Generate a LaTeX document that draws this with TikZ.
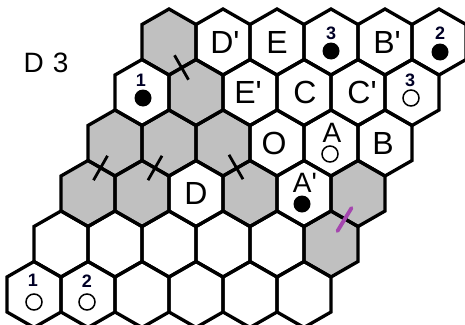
\documentclass[tikz,border=0pt]{standalone}
\usepackage{fontspec}
\setmainfont{Liberation Sans}[Ligatures=TeXOff]
\usetikzlibrary{calc}
\definecolor{hexgray}{RGB}{192,192,192}
\definecolor{tickpurple}{RGB}{165,70,175}
\tikzset{
  hexcell/.pic={\path[pic actions] (0,-33) -- (27,-17.5) -- (27,17.5) -- (0,33) -- (-27,17.5) -- (-27,-17.5) -- cycle;},
  hexline/.style={draw=black, line width=3.3pt, line join=miter},
  lbl/.style={font=\fontsize{32}{32}\selectfont, inner sep=0pt},
  lblsmall/.style={font=\fontsize{28}{28}\selectfont, inner sep=0pt},
  num/.style={font=\bfseries\fontsize{18}{18}\selectfont, inner sep=0pt, text=black!85!blue},
  stone/.style={circle, fill=black, minimum size=17pt, inner sep=0pt},
  ring/.style={circle, draw=black, line width=1.5pt, minimum size=16pt, inner sep=0pt},
  tickmark/.style={draw=black, line width=2.8pt},
  ptick/.style={draw=tickpurple, line width=3.8pt, line cap=round},
  title/.style={font=\fontsize{28}{28}\selectfont, inner sep=0pt}
}
\begin{document}
\begin{tikzpicture}[x=1pt,y=-1pt]
\useasboundingbox (0,0) rectangle (465,324);
\fill[white] (0,0) rectangle (465,324);
% gray cells
\foreach \r/\c in {0/0,1/1,2/0,2/1,2/2,3/0,3/1,3/3,3/5,4/5}
  \pic[fill=hexgray] at ({169+54*\c-27*\r},{42+50.5*\r}) {hexcell};
% outlines
\foreach \r in {0,...,5}
  \foreach \c in {0,...,5}
    \pic[hexline] at ({169+54*\c-27*\r},{42+50.5*\r}) {hexcell};
% ticks across edges
\coordinate (t1) at (181.5,67.5);
\coordinate (t2) at (100.5,168);
\coordinate (t3) at (155,168);
\coordinate (t4) at (236,167);
\coordinate (t5) at (344.5,219.5);
\draw[tickmark] ($(t1)+(-7,-12.2)$) -- ($(t1)+(7,12.2)$);
\draw[tickmark] ($(t2)+(-7,12.2)$) -- ($(t2)+(7,-12.2)$);
\draw[tickmark] ($(t3)+(-7,12.2)$) -- ($(t3)+(7,-12.2)$);
\draw[tickmark] ($(t4)+(-7,-12.2)$) -- ($(t4)+(7,12.2)$);
\draw[ptick] ($(t5)+(-7,11.5)$) -- ($(t5)+(7,-11.5)$);
% title
\node[title] (title) at (46,63) {D\kern9pt3};
% letters
\node[lbl] (Dp) at (225,42) {D'};
\node[lbl] (E) at (277,42) {E};
\node[lbl] (Bp) at (387,42) {B'};
\node[lbl] (Ep) at (248,92.5) {E'};
\node[lbl] (C) at (305,92.5) {C};
\node[lbl] (Cp) at (362,92.5) {C'};
\node[lbl] (O) at (274,143) {O};
\node[lbl] (B) at (383,143) {B};
\node[lbl] (D) at (196,193.5) {D};
\node[lblsmall] (A) at (332,133) {A};
\node[lblsmall] (Ap) at (305,182.5) {A'};
% numbered stones
\node[num] (n3a) at (331,33) {3};
\node[stone] (s3a) at (331,51) {};
\node[num] (n2a) at (440,33) {2};
\node[stone] (s2a) at (440,52) {};
\node[num] (n1a) at (141,80) {1};
\node[stone] (s1a) at (143,98) {};
\node[num] (n3b) at (410,80) {3};
\node[ring] (r3b) at (411,98) {};
\node[ring] (rA) at (330,154) {};
\node[stone] (sAp) at (302,204) {};
\node[num] (n1b) at (33,280) {1};
\node[ring] (r1b) at (34,302) {};
\node[num] (n2b) at (87,281) {2};
\node[ring] (r2b) at (87,302) {};
\end{tikzpicture}
\end{document}
